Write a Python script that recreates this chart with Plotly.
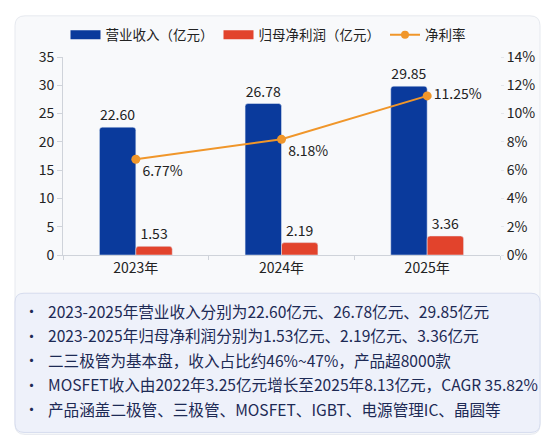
import plotly.graph_objects as go

# data
years = ["2023年", "2024年", "2025年"]
revenue = [22.60, 26.78, 29.85]      # 营业收入（亿元）
profit = [1.53, 2.19, 3.36]          # 归母净利润（亿元）
margin = [6.77, 8.18, 11.25]         # 净利率 %
notes = [
    "2023-2025年营业收入分别为22.60亿元、26.78亿元、29.85亿元",
    "2023-2025年归母净利润分别为1.53亿元、2.19亿元、3.36亿元",
    "二三极管为基本盘，收入占比约46%~47%，产品超8000款",
    "MOSFET收入由2022年3.25亿元增长至2025年8.13亿元，CAGR 35.82%",
    "产品涵盖二极管、三极管、MOSFET、IGBT、电源管理IC、晶圆等",
]

BLUE = "#0a3a9c"
RED = "#e2432c"
ORANGE = "#f0962a"
FONT = "Noto Sans CJK SC"

# page body has an 8px margin, so the figure is a bit smaller than the window
OFF = 8
W, H = 553 - OFF, 444 - OFF
L, R, T, B = 55, 53, 45, 189
pw, ph = W - L - R, H - T - B


def px(x):
    # x given in window pixels
    return (x - OFF - L) / pw


def py(y):
    return (H - B - (y - OFF)) / ph


def rounded(x0, y0, x1, y1, r):
    # rounded rectangle path, window pixels -> paper coords
    rx, ry = r / pw, r / ph
    a, b, c, d = px(x0), py(y0), px(x1), py(y1)
    return (f"M{a + rx},{b} L{c - rx},{b} Q{c},{b} {c},{b - ry} "
            f"L{c},{d + ry} Q{c},{d} {c - rx},{d} L{a + rx},{d} "
            f"Q{a},{d} {a},{d + ry} L{a},{b - ry} Q{a},{b} {a + rx},{b} Z")


fig = go.Figure()

fig.add_trace(go.Bar(x=years, y=revenue, name="营业收入（亿元）", marker_color=BLUE,
                     marker_cornerradius=3, texttemplate="%{y:.2f}", textposition="outside",
                     textfont=dict(size=14, color="#222"), cliponaxis=False, showlegend=False))
fig.add_trace(go.Bar(x=years, y=profit, name="归母净利润（亿元）", marker_color=RED,
                     marker_cornerradius=3, texttemplate="%{y:.2f}", textposition="outside",
                     textfont=dict(size=14, color="#222"), cliponaxis=False, showlegend=False))
fig.add_trace(go.Scatter(x=years, y=margin, name="净利率", yaxis="y2",
                         mode="lines+markers+text", line=dict(color=ORANGE, width=2),
                         marker=dict(size=9, color=ORANGE),
                         text=[f"{m:.2f}%" for m in margin],
                         textposition=["bottom right", "bottom right", "middle right"],
                         textfont=dict(size=14, color="#222"), cliponaxis=False,
                         showlegend=False))

# legend entries (wide swatches like the original)
fig.add_trace(go.Scatter(x=[None], y=[None], mode="lines", name="营业收入（亿元）",
                         line=dict(color=BLUE, width=9)))
fig.add_trace(go.Scatter(x=[None], y=[None], mode="lines", name="归母净利润（亿元）",
                         line=dict(color=RED, width=9)))
fig.add_trace(go.Scatter(x=[None], y=[None], mode="lines+markers", name="净利率",
                         line=dict(color=ORANGE, width=2), marker=dict(size=8, color=ORANGE)))

shapes = [
    dict(type="path", xref="paper", yref="paper", path=rounded(15, 11, 540, 438, 10),
         fillcolor="#f8f9fb", line=dict(color="#e6e9ef", width=1), layer="below"),
    dict(type="path", xref="paper", yref="paper", path=rounded(15, 294, 540, 436, 9),
         fillcolor="#eef1fa", line=dict(color="#d6dcee", width=1), layer="below"),
]

annotations = []
for i, line in enumerate(notes):
    yy = py(312 + i * 25)
    annotations.append(dict(text="•", x=px(31), y=yy, xref="paper", yref="paper",
                            xanchor="center", yanchor="middle", showarrow=False,
                            font=dict(size=15, color="#1d2a55")))
    annotations.append(dict(text=line, x=px(46), y=yy, xref="paper", yref="paper",
                            xanchor="left", yanchor="middle", showarrow=False,
                            font=dict(size=15.6, color="#1d2a55")))

fig.update_layout(
    width=W, height=H, autosize=False,
    margin=dict(l=L, r=R, t=T, b=B, pad=0),
    paper_bgcolor="white", plot_bgcolor="rgba(0,0,0,0)",
    font=dict(family=FONT, size=14, color="#222"),
    barmode="group", bargap=0.5, bargroupgap=0,
    shapes=shapes, annotations=annotations,
    legend=dict(orientation="h", x=px(268), y=py(30.5), xanchor="center", yanchor="middle",
                font=dict(size=13.5, color="#222"), bgcolor="rgba(0,0,0,0)", itemwidth=30),
    xaxis=dict(showline=True, linecolor="#cfd3da", ticks="outside", tickson="boundaries",
               ticklen=4, tickcolor="#cfd3da", tickfont=dict(size=14), showgrid=False),
    yaxis=dict(range=[0, 35], dtick=5, showline=True, linecolor="#cfd3da", ticks="outside",
               ticklen=5, tickcolor="#cfd3da", showgrid=False, zeroline=False,
               tickfont=dict(size=14)),
    yaxis2=dict(range=[0, 14], dtick=2, overlaying="y", side="right", showgrid=False,
                zeroline=False, ticksuffix="%", ticks="outside", ticklen=3,
                tickcolor="#e3e6ec", tickfont=dict(size=14)),
)

fig.write_html("out.html")
